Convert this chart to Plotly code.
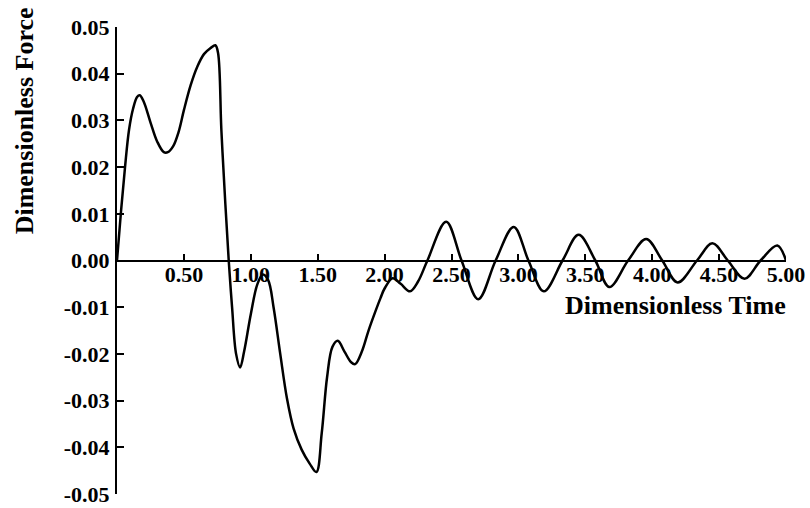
import plotly.graph_objects as go

# Dimensionless force history
time = [0.00, 0.03, 0.06, 0.09, 0.12, 0.15, 0.17, 0.20, 0.25, 0.30,
        0.35, 0.38, 0.42, 0.46, 0.50, 0.55, 0.60, 0.65, 0.70, 0.735,
        0.755, 0.78, 0.81, 0.835, 0.86, 0.89, 0.92, 0.95, 1.00, 1.05,
        1.09, 1.13, 1.17, 1.22, 1.27, 1.32, 1.38, 1.44, 1.49, 1.53,
        1.57, 1.61, 1.65, 1.70, 1.75, 1.78, 1.83, 1.88, 1.93, 1.97,
        2.00, 2.06, 2.12, 2.19, 2.25, 2.32,
        2.46, 2.575, 2.70, 2.83, 2.965, 3.075, 3.19, 3.33, 3.45, 3.575,
        3.68, 3.82, 3.955, 4.075, 4.19, 4.335, 4.45, 4.565, 4.69, 4.81,
        4.935, 5.00]
force = [0.000, 0.0105, 0.0200, 0.0280, 0.0325, 0.0350, 0.0354, 0.0340, 0.0296, 0.0255,
         0.0232, 0.0232, 0.0245, 0.0275, 0.0322, 0.0375, 0.0415, 0.0442, 0.0455, 0.0461,
         0.0445, 0.0280, 0.0120, 0.0000, -0.0100, -0.0200, -0.0229, -0.0195, -0.0115, -0.0050,
         -0.0030, -0.0042, -0.0100, -0.0200, -0.0295, -0.0360, -0.0405, -0.0435, -0.0453, -0.0370,
         -0.0250, -0.0185, -0.0172, -0.0195, -0.0218, -0.0222, -0.0195, -0.0150, -0.0110, -0.0080,
         -0.0060, -0.0038, -0.0050, -0.0066, -0.0045, 0.000,
         0.0083, 0.000, -0.0083, 0.000, 0.0072, 0.000, -0.0066, 0.000, 0.0055, 0.000,
         -0.0057, 0.000, 0.0046, 0.000, -0.0047, 0.000, 0.0037, 0.000, -0.0039, 0.000,
         0.0032, 0.000]

x_ticks = [0.5, 1.0, 1.5, 2.0, 2.5, 3.0, 3.5, 4.0, 4.5, 5.0]
x_labels = ["0.50", "1.00", "1.50", "2.00", "2.50", "3.00", "3.50", "4.00", "4.50", "5.00"]
y_ticks = [0.05, 0.04, 0.03, 0.02, 0.01, 0.0, -0.01, -0.02, -0.03, -0.04, -0.05]
y_labels = ["0.05", "0.04", "0.03", "0.02", "0.01", "0.00",
            "-0.01", "-0.02", "-0.03", "-0.04", "-0.05"]

serif = "Liberation Serif, Times New Roman, serif"

fig = go.Figure()
fig.add_trace(go.Scatter(
    x=time, y=force, mode="lines",
    line=dict(color="black", width=2.5, shape="spline", smoothing=1.0),
    hoverinfo="skip", showlegend=False,
))

fig.update_layout(
    width=810, height=508,
    margin=dict(l=117, r=24, t=27, b=14, autoexpand=False),
    paper_bgcolor="white", plot_bgcolor="white",
    xaxis=dict(
        range=[0, 5], anchor="free", position=0.5,
        showline=True, linecolor="black", linewidth=2,
        ticks="inside", ticklen=6, tickwidth=1.5, tickcolor="black",
        tickvals=x_ticks, ticktext=x_labels,
        tickfont=dict(family=serif, size=22, color="black", weight="bold"),
        ticklabelstandoff=-6,
        showgrid=False, zeroline=False, automargin=False,
    ),
    yaxis=dict(
        range=[-0.05001, 0.05001],
        showline=True, linecolor="black", linewidth=2,
        ticks="inside", ticklen=7, tickwidth=2, tickcolor="black",
        tickvals=y_ticks, ticktext=y_labels,
        tickfont=dict(family=serif, size=22, color="black", weight="bold"),
        ticklabelstandoff=1,
        ticklabeloverflow="allow",
        showgrid=False, zeroline=False, automargin=False,
    ),
    annotations=[
        dict(text="Dimensionless Force", textangle=-90,
             xref="paper", x=-0.139, xanchor="center",
             yref="y", y=0.0298, yanchor="middle",
             showarrow=False,
             font=dict(family=serif, size=26, color="black", weight="bold")),
        dict(text="Dimensionless Time",
             xref="x", x=5.0, xanchor="right", xshift=2,
             yref="y", y=-0.0097, yanchor="middle",
             showarrow=False,
             font=dict(family=serif, size=26, color="black", weight="bold")),
    ],
)

fig.write_html("out.html")
